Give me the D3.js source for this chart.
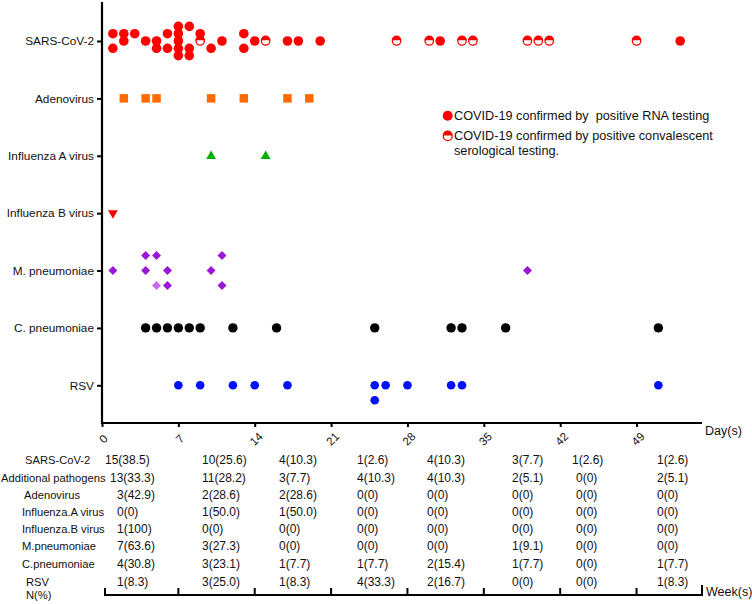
<!DOCTYPE html>
<html><head><meta charset="utf-8">
<script src="https://cdn.jsdelivr.net/npm/d3@7"></script>
<style>
body{margin:0;background:#fff}
text{font-family:Arial,"Liberation Sans",Helvetica,sans-serif;fill:#111;white-space:pre}
</style>
</head><body>
<svg id="chart" width="752" height="604"></svg>
<script>
// ---------------- DATA ----------------
const categories = ["SARS-CoV-2","Adenovirus","Influenza A virus","Influenza B virus","M. pneumoniae","C. pneumoniae","RSV"];
const dayTicks = [0,7,14,21,28,35,42,49];
const weekBounds = [0,7,14,21,28,35,42,49,55];

// SARS-CoV-2 cases: day of onset, stacking lane, confirmed by serology (true) or RNA (false)
const sarsCov2 = [
  {day:1,lane:-1,sero:false},{day:1,lane:1,sero:false},
  {day:2,lane:-1,sero:false},{day:2,lane:0,sero:false},
  {day:3,lane:-1,sero:false},
  {day:4,lane:0,sero:false},
  {day:5,lane:0,sero:false},{day:5,lane:1,sero:false},
  {day:6,lane:-1,sero:false},{day:6,lane:1,sero:false},
  {day:7,lane:-2,sero:false},{day:7,lane:-1,sero:false},{day:7,lane:0,sero:false},{day:7,lane:1,sero:false},{day:7,lane:2,sero:false},
  {day:8,lane:-2,sero:false},{day:8,lane:1,sero:false},{day:8,lane:2,sero:false},
  {day:9,lane:-1,sero:false},{day:9,lane:0,sero:true},
  {day:10,lane:1,sero:false},
  {day:11,lane:0,sero:false},
  {day:13,lane:-1,sero:false},{day:13,lane:1,sero:false},
  {day:14,lane:0,sero:false},
  {day:15,lane:0,sero:true},
  {day:17,lane:0,sero:false},{day:18,lane:0,sero:false},{day:20,lane:0,sero:false},
  {day:27,lane:0,sero:true},{day:30,lane:0,sero:true},{day:31,lane:0,sero:false},
  {day:33,lane:0,sero:true},{day:34,lane:0,sero:true},
  {day:39,lane:0,sero:true},{day:40,lane:0,sero:true},{day:41,lane:0,sero:true},
  {day:49,lane:0,sero:true},{day:53,lane:0,sero:false}
];
const adenovirusDays = [2,4,5,10,13,17,19];
const influenzaADays = [10,15];
const influenzaBDays = [1];
const mPneumoniae = [
  {day:1,lane:0},{day:4,lane:-1},{day:4,lane:0},{day:5,lane:-1},{day:5,lane:1,light:true},
  {day:6,lane:0},{day:6,lane:1},{day:10,lane:0},{day:11,lane:-1},{day:11,lane:1},{day:39,lane:0}
];
const cPneumoniaeDays = [4,5,6,7,8,9,12,16,25,32,33,37,51];
const rsv = [
  {day:7,lane:0},{day:9,lane:0},{day:12,lane:0},{day:14,lane:0},{day:17,lane:0},
  {day:25,lane:0},{day:25,lane:1},{day:26,lane:0},{day:28,lane:0},{day:32,lane:0},{day:33,lane:0},{day:51,lane:0}
];

// weekly table
const tableRowLabels = ["SARS-CoV-2","Additional pathogens","Adenovirus","Influenza.A virus","Influenza.B virus","M.pneumoniae","C.pneumoniae","RSV"];
const tableRows = [
  ["15(38.5)","10(25.6)","4(10.3)","1(2.6)","4(10.3)","3(7.7)","1(2.6)","1(2.6)"],
  ["13(33.3)","11(28.2)","3(7.7)","4(10.3)","4(10.3)","2(5.1)","0(0)","2(5.1)"],
  ["3(42.9)","2(28.6)","2(28.6)","0(0)","0(0)","0(0)","0(0)","0(0)"],
  ["0(0)","1(50.0)","1(50.0)","0(0)","0(0)","0(0)","0(0)","0(0)"],
  ["1(100)","0(0)","0(0)","0(0)","0(0)","0(0)","0(0)","0(0)"],
  ["7(63.6)","3(27.3)","0(0)","0(0)","0(0)","1(9.1)","0(0)","0(0)"],
  ["4(30.8)","3(23.1)","1(7.7)","1(7.7)","2(15.4)","1(7.7)","0(0)","1(7.7)"],
  ["1(8.3)","3(25.0)","1(8.3)","4(33.3)","2(16.7)","0(0)","0(0)","1(8.3)"]
];
const legendItems = [
  {sero:false, lines:["COVID-19 confirmed by  positive RNA testing"]},
  {sero:true, lines:["COVID-19 confirmed by positive convalescent","serological testing."]}
];

// ---------------- LAYOUT ----------------
const svg = d3.select("#chart");
const x = d3.scaleLinear().domain([0,55]).range([102,702]);
const y = d3.scalePoint().domain(categories).range([41,385.3]);
const axisTop = 2, axisBottom = 423;

const RED = "#ff0000";

// y axis
const yAxis = svg.append("g").attr("transform","translate(102,0)")
  .call(d3.axisLeft(y).tickSize(5).tickPadding(3).tickSizeOuter(0));
yAxis.select(".domain").remove();
yAxis.selectAll(".tick line").attr("stroke","#000").attr("stroke-width",2);
yAxis.selectAll(".tick text").style("font-size","11.8px").attr("fill","#111").style("font-family","Arial, 'Liberation Sans', sans-serif");
svg.append("line").attr("x1",102).attr("x2",102).attr("y1",axisTop).attr("y2",axisBottom+1)
  .attr("stroke","#000").attr("stroke-width",2.2);

// x axis
const xAxis = svg.append("g").attr("transform",`translate(0,${axisBottom})`)
  .call(d3.axisBottom(x).tickValues(dayTicks).tickSize(4).tickSizeOuter(0).tickFormat(d3.format("d")));
xAxis.select(".domain").remove();
xAxis.selectAll(".tick line").attr("stroke","#000").attr("stroke-width",2);
xAxis.selectAll(".tick text")
  .style("font-size","11.5px").style("font-family","Arial, 'Liberation Sans', sans-serif")
  .attr("fill","#111")
  .attr("y",0).attr("dy",null)
  .attr("text-anchor","middle")
  .attr("dominant-baseline","central")
  .attr("transform","translate(1,16) rotate(-45)");
svg.append("line").attr("x1",101).attr("x2",x(55)).attr("y1",axisBottom).attr("y2",axisBottom)
  .attr("stroke","#000").attr("stroke-width",2.2);
svg.append("text").attr("x",x(55)+3).attr("y",axisBottom+8).attr("dominant-baseline","central")
  .style("font-size","12.5px").text("Day(s)");

// ----- marks -----
const plot = svg.append("g");
const sarsStep = 7.3, wideStep = 15;

function halfCircle(g, cx, cy, r){
  g.append("circle").attr("cx",cx).attr("cy",cy).attr("r",r-0.6)
    .attr("fill","#fff").attr("stroke",RED).attr("stroke-width",1.3);
  g.append("path")
    .attr("d",`M${cx-r},${cy-0.7} A${r},${r} 0 0 1 ${cx+r},${cy-0.7} Z`)
    .attr("fill",RED);
}

// SARS-CoV-2
const sarsG = plot.append("g");
sarsCov2.forEach(d=>{
  const cx = x(d.day), cy = y("SARS-CoV-2") + d.lane*sarsStep;
  if(d.sero) halfCircle(sarsG, cx, cy, 4.8);
  else sarsG.append("circle").attr("cx",cx).attr("cy",cy).attr("r",4.8).attr("fill",RED);
});

// Adenovirus squares
plot.append("g").selectAll("path").data(adenovirusDays).join("path")
  .attr("transform",d=>`translate(${x(d)},${y("Adenovirus")})`)
  .attr("d",d3.symbol(d3.symbolSquare, 72))
  .attr("fill","#ff6a00");

// Influenza A triangles
plot.append("g").selectAll("path").data(influenzaADays).join("path")
  .attr("transform",d=>`translate(${x(d)},${y("Influenza A virus")+0.5})`)
  .attr("d",d3.symbol(d3.symbolTriangle, 42))
  .attr("fill","#00b000");

// Influenza B down triangles
plot.append("g").selectAll("path").data(influenzaBDays).join("path")
  .attr("transform",d=>`translate(${x(d)},${y("Influenza B virus")}) rotate(180)`)
  .attr("d",d3.symbol(d3.symbolTriangle, 42))
  .attr("fill",RED);

// M. pneumoniae diamonds
plot.append("g").selectAll("path").data(mPneumoniae).join("path")
  .attr("transform",d=>`translate(${x(d.day)},${y("M. pneumoniae")+d.lane*wideStep}) rotate(45)`)
  .attr("d",d3.symbol(d3.symbolSquare, 40))
  .attr("fill",d=>d.light ? "#c86af0" : "#9b16d6");

// C. pneumoniae circles
plot.append("g").selectAll("circle").data(cPneumoniaeDays).join("circle")
  .attr("cx",d=>x(d)).attr("cy",y("C. pneumoniae")).attr("r",4.7).attr("fill","#000");

// RSV circles
plot.append("g").selectAll("circle").data(rsv).join("circle")
  .attr("cx",d=>x(d.day)).attr("cy",d=>y("RSV")+d.lane*wideStep).attr("r",4.3).attr("fill","#0010ff");

// legend
const lg = svg.append("g");
legendItems.forEach((it,i)=>{
  const cy = 115.7 + i*20.5;
  if(it.sero) halfCircle(lg, 447.7, cy, 5);
  else lg.append("circle").attr("cx",447.7).attr("cy",cy).attr("r",5).attr("fill",RED);
  it.lines.forEach((t,j)=>{
    lg.append("text").attr("x",454).attr("y",cy + j*14.7).attr("dominant-baseline","central")
      .style("font-size","12.7px").text(t);
  });
});

// ----- table -----
const rowY = [460,477.7,494.8,512,529,545.7,564,581.5];
const labelX = [25,1,24,22,22,22,22,26];
const colX = [117,202,279,357,427,512,576,657];
const nudge = {"0-0":-12,"1-0":-7,"0-6":-4};
const tg = svg.append("g").style("font-size","12px");
tableRowLabels.forEach((lab,i)=>{
  tg.append("text").attr("x",labelX[i]).attr("y",rowY[i]).attr("dominant-baseline","central")
    .style("font-size","11.2px").text(lab);
  tableRows[i].forEach((v,j)=>{
    tg.append("text").attr("x",colX[j] + (nudge[i+"-"+j]||0)).attr("y",rowY[i])
      .attr("dominant-baseline","central").text(v);
  });
});
tg.append("text").attr("x",26).attr("y",594.5).attr("dominant-baseline","central")
  .style("font-size","11.2px").text("N(%)");

// week axis
const weekY = 595;
svg.append("line").attr("x1",x(0)+3).attr("x2",x(55)).attr("y1",weekY).attr("y2",weekY)
  .attr("stroke","#000").attr("stroke-width",2);
svg.append("g").selectAll("line").data(weekBounds).join("line")
  .attr("x1",(d,i)=>i===0 ? x(d)+3 : x(d)).attr("x2",(d,i)=>i===0 ? x(d)+3 : x(d))
  .attr("y1",weekY+1).attr("y2",d=>d===55 ? weekY-10 : weekY-7)
  .attr("stroke","#000").attr("stroke-width",2);
svg.append("text").attr("x",x(55)+4).attr("y",weekY-3).attr("dominant-baseline","central")
  .style("font-size","12.5px").text("Week(s)");
</script>
</body></html>
